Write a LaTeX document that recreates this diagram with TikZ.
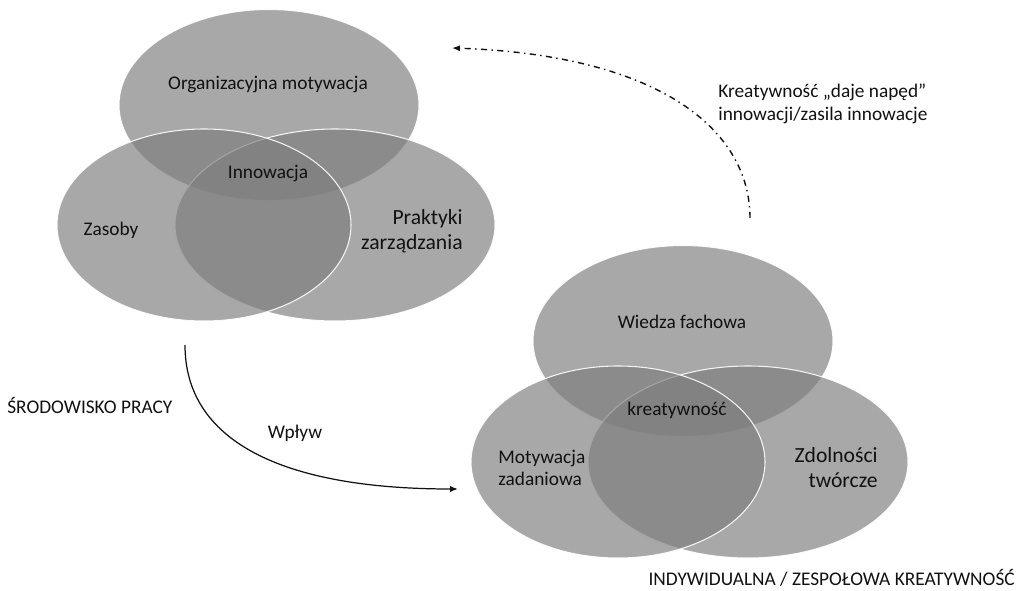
\documentclass[tikz,border=0pt]{standalone}
\usepackage{fontspec}
\setmainfont{Carlito}
\usetikzlibrary{arrows.meta}
\definecolor{ink}{HTML}{111111}
\definecolor{venn}{HTML}{7D7D7D}

\begin{document}
\begin{tikzpicture}[x=0.02cm,y=-0.02cm,>={Latex[length=4.5pt,width=3.5pt]},
  set/.style={fill=venn,fill opacity=.67,draw=white,draw opacity=.9,line width=.6pt},
  txt/.style={text=ink,inner sep=0pt,font=\fontsize{11}{12.5}\selectfont},
  bigtxt/.style={text=ink,inner sep=0pt,font=\fontsize{12.3}{14.2}\selectfont}]
  \useasboundingbox (0,0) rectangle (1022,591);
  \coordinate (om) at (269,105); \coordinate (zs) at (204,225); \coordinate (pz) at (335,225);
  \draw[set] (om) ellipse [x radius=150,y radius=95.5];
  \draw[set] (pz) ellipse [x radius=160,y radius=96];
  \draw[set] (zs) ellipse [x radius=147,y radius=96];
  \node[txt] (orgmot) at (268,85) {Organizacyjna motywacja};
  \node[txt] (innow) at (268,174) {Innowacja};
  \node[txt] (zasoby) at (111,230) {Zasoby};
  \node[bigtxt,align=right,anchor=east] (prakt) at (463,231) {Praktyki\\zarządzania};
  \coordinate (wf) at (683,341); \coordinate (mz) at (618,462); \coordinate (zt) at (748,462);
  \draw[set] (wf) ellipse [x radius=150,y radius=95.5];
  \draw[set] (zt) ellipse [x radius=160,y radius=96];
  \draw[set] (mz) ellipse [x radius=147,y radius=96];
  \node[txt] (wiedza) at (682,322) {Wiedza fachowa};
  \node[txt] (kreat) at (677,410) {kreatywność};
  \node[txt,align=left,anchor=west] (motyw) at (498,468) {Motywacja\\zadaniowa};
  \node[bigtxt,align=right,anchor=east] (zdoln) at (878,468) {Zdolności\\twórcze};
  \node[txt,anchor=west] (srod) at (7,405) {ŚRODOWISKO PRACY};
  \node[txt] (wplyw) at (295,433) {Wpływ};
  \node[txt,anchor=east] (indyw) at (1015,578) {INDYWIDUALNA / ZESPOŁOWA KREATYWNOŚĆ};
  \node[txt,align=left,anchor=west,font=\fontsize{11}{13}\selectfont] (naped) at (718,104)
    {Kreatywność „daje napęd”\\innowacji/zasila innowacje};
  \coordinate (wa) at (185,345); \coordinate (wb) at (458,489);
  \draw[ink,line width=.7pt,->] (wa) .. controls (185,440) and (280,489) .. (wb);
  \coordinate (ka) at (750,218); \coordinate (kb) at (452,48);
  \draw[ink,line width=.8pt,->,dash pattern=on 3.5pt off 2.5pt on .8pt off 2.5pt]
    (ka) .. controls (750,130) and (660,55) .. (kb);
\end{tikzpicture}
\end{document}
